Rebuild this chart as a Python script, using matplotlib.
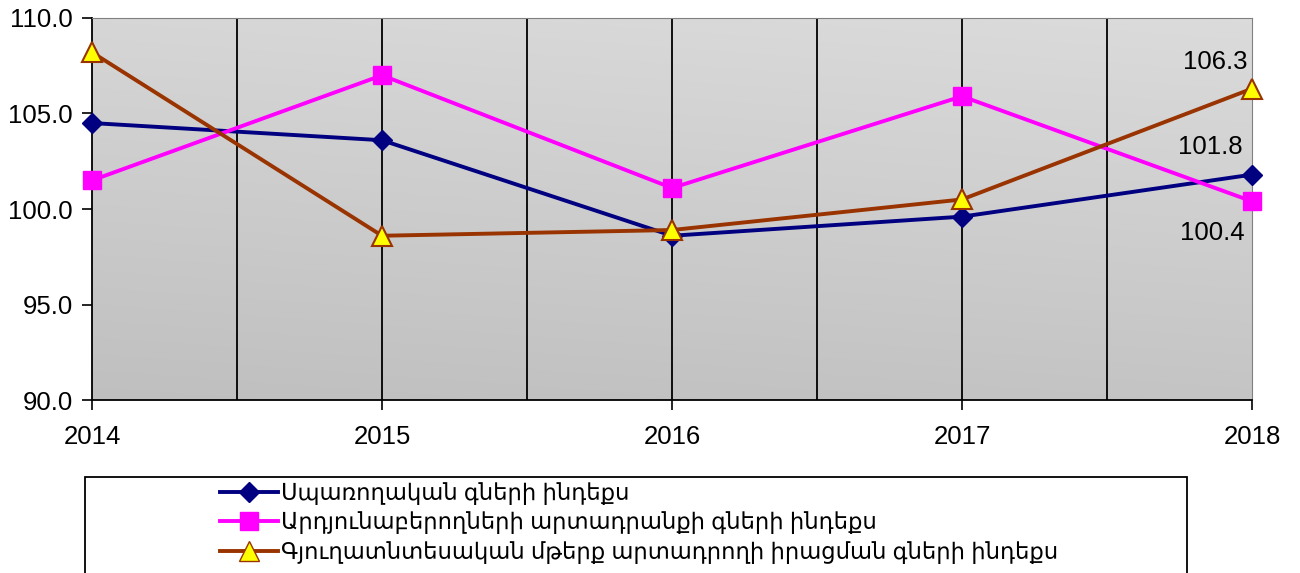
import numpy as np
import matplotlib
matplotlib.use("Agg")
import matplotlib.pyplot as plt
from matplotlib.patches import Rectangle
from matplotlib.lines import Line2D

plt.rcParams['font.family'] = ['Liberation Sans', 'DejaVu Sans']

years = [2014, 2015, 2016, 2017, 2018]
consumer = [104.5, 103.6, 98.6, 99.6, 101.8]
industrial = [101.5, 107.0, 101.1, 105.9, 100.4]
agricultural = [108.2, 98.6, 98.9, 100.5, 106.3]
names = ["Սպառողական գների ինդեքս",
         "Արդյունաբերողների արտադրանքի գների ինդեքս",
         "Գյուղատնտեսական մթերք արտադրողի իրացման գների ինդեքս"]
yticks = [90.0, 95.0, 100.0, 105.0, 110.0]

fig = plt.figure(figsize=(13, 5.73), dpi=100)
ax = fig.add_axes([0.0708, 0.3019, 0.8923, 0.6667])

x = np.arange(len(years))

# gray gradient background
grad = np.linspace(0, 1, 200)
gy, gx = np.meshgrid(grad, grad, indexing='ij')
g = 0.75 + 0.09 * gy + 0.02 * gx
ax.imshow(np.dstack([g, g, g]), extent=[x[0], x[-1], 90, 110], origin='lower',
          aspect='auto', zorder=0)

for v in np.arange(0.5, len(years) - 1, 0.5):
    ax.axvline(v, color='black', lw=1.3, zorder=1)

ax.plot(x, consumer, color='#000080', lw=2.8, marker='D', ms=10,
        mfc='#000080', mec='#000080', zorder=3, clip_on=False)
ax.plot(x, industrial, color='#ff00ff', lw=2.8, marker='s', ms=13,
        mfc='#ff00ff', mec='#ff00ff', zorder=3, clip_on=False)
ax.plot(x, agricultural, color='#993300', lw=2.8, marker='^', ms=14,
        mfc='#ffff00', mec='#993300', mew=1.5, zorder=4, clip_on=False)

ax.annotate(f"{agricultural[-1]:.1f}", (x[-1], agricultural[-1]), xytext=(-3, 19),
            textcoords='offset points', ha='right', va='center', fontsize=18.5)
ax.annotate(f"{consumer[-1]:.1f}", (x[-1], consumer[-1]), xytext=(-7, 20),
            textcoords='offset points', ha='right', va='center', fontsize=18.5)
ax.annotate(f"{industrial[-1]:.1f}", (x[-1], industrial[-1]), xytext=(-5, -23),
            textcoords='offset points', ha='right', va='center', fontsize=18.5)

ax.set_xlim(x[0], x[-1])
ax.set_ylim(90, 110)
ax.set_yticks(yticks)
ax.set_yticklabels([f"{t:.1f}" for t in yticks], fontsize=18.5)
ax.set_xticks(x)
ax.set_xticklabels([str(y) for y in years], fontsize=18.5)
ax.tick_params(axis='both', direction='out', length=7, width=1.2, color='black')
ax.tick_params(axis='x', pad=11)
ax.tick_params(axis='y', pad=7)
ax.spines['left'].set_color('black')
ax.spines['bottom'].set_color('black')
ax.spines['left'].set_linewidth(1.3)
ax.spines['bottom'].set_linewidth(1.3)
ax.spines['top'].set_color('#808080')
ax.spines['right'].set_color('#808080')

# legend frame
fig.patches.append(Rectangle((85 / 1300, -0.05), (1187 - 85) / 1300, 0.05 + (573 - 477) / 573,
                             transform=fig.transFigure, fill=False, edgecolor='black',
                             lw=1.3))
handles = [
    Line2D([], [], color='#000080', lw=2.8, marker='D', ms=10),
    Line2D([], [], color='#ff00ff', lw=2.8, marker='s', ms=13),
    Line2D([], [], color='#993300', lw=2.8, marker='^', ms=14, mfc='#ffff00', mec='#993300'),
]
fig.legend(handles, names, loc='upper left', bbox_to_anchor=(215 / 1300, 1 - 477 / 573),
           frameon=False, handlelength=2.6, handletextpad=0.1,
           labelspacing=0.3, borderaxespad=0, borderpad=0.2,
           prop={'family': ['Liberation Sans', 'DejaVu Sans'], 'size': 16.3})

fig.savefig("out.png", dpi=100)
